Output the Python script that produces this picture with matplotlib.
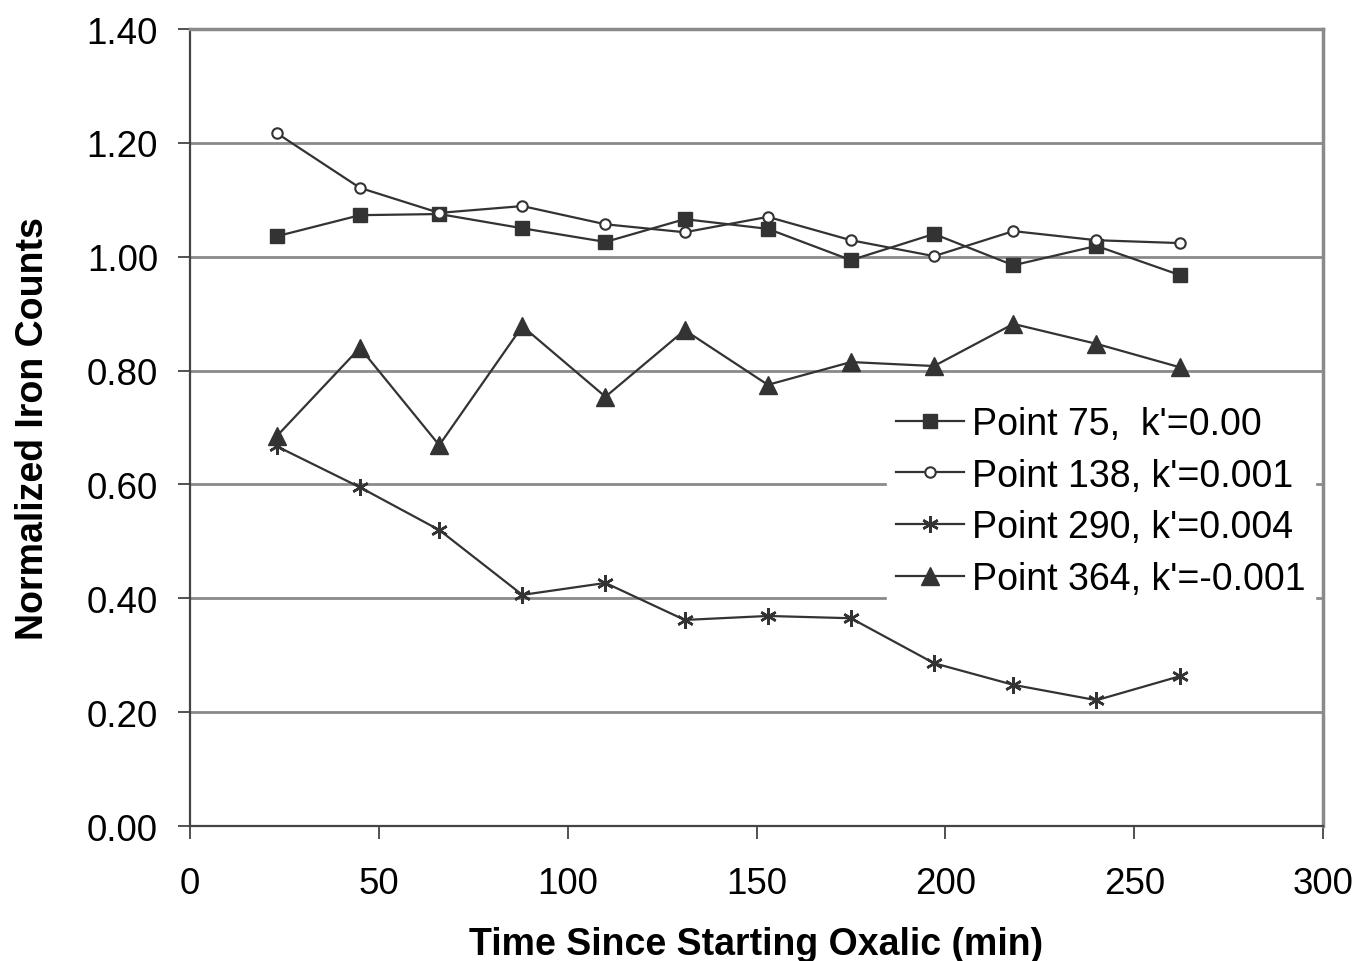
import numpy as np
from matplotlib import pyplot as plt

# data
time_min = [23, 45, 66, 88, 110, 131, 153, 175, 197, 218, 240, 262]
point_75 = [1.036, 1.073, 1.075, 1.050, 1.026, 1.066, 1.049, 0.994, 1.040, 0.985, 1.019, 0.968]
point_138 = [1.217, 1.121, 1.077, 1.089, 1.057, 1.043, 1.070, 1.029, 1.001, 1.045, 1.029, 1.024]
point_290 = [0.667, 0.595, 0.520, 0.406, 0.427, 0.362, 0.369, 0.365, 0.286, 0.248, 0.221, 0.263]
point_364 = [0.685, 0.840, 0.669, 0.878, 0.754, 0.871, 0.775, 0.815, 0.808, 0.882, 0.847, 0.806]
series_labels = ["Point 75,  k'=0.00", "Point 138, k'=0.001",
                 "Point 290, k'=0.004", "Point 364, k'=-0.001"]
y_ticks = [0.0, 0.2, 0.4, 0.6, 0.8, 1.0, 1.2, 1.4]
x_ticks = [0, 50, 100, 150, 200, 250, 300]

plt.rcParams['font.family'] = ['Liberation Sans', 'DejaVu Sans']

line_col = "#333333"
grid_col = "#8a8a8a"

fig = plt.figure(figsize=(13.57, 9.62), dpi=100)
ax = fig.add_axes([0.140, 0.1403, 0.835, 0.8285])

ax.plot(time_min, point_75, color=line_col, lw=1.6, marker="s", ms=10,
        mfc=line_col, mec=line_col, label=series_labels[0], zorder=3)
ax.plot(time_min, point_138, color=line_col, lw=1.6, marker="o", ms=7.5,
        mfc="white", mec=line_col, mew=1.5, label=series_labels[1], zorder=3)
ax.plot(time_min, point_290, color=line_col, lw=1.6, marker=(6, 2, 0), ms=12,
        mec=line_col, mew=1.8, label=series_labels[2], zorder=3)
ax.plot(time_min, point_364, color=line_col, lw=1.6, marker="^", ms=13,
        mfc=line_col, mec=line_col, label=series_labels[3], zorder=3)

ax.set_xlim(0, 300)
ax.set_ylim(0, 1.4)
ax.set_xticks(x_ticks)
ax.set_yticks(y_ticks)
ax.set_yticklabels([f"{v:.2f}" for v in y_ticks])
ax.tick_params(axis="both", direction="out", length=9, width=1.2,
               colors=line_col, labelcolor="black", labelsize=26.5)
ax.tick_params(axis="y", pad=14)
ax.tick_params(axis="x", pad=20)
ax.yaxis.grid(True, color=grid_col, lw=2)
ax.set_axisbelow(True)

for side in ["left", "bottom"]:
    ax.spines[side].set_color("#444444")
    ax.spines[side].set_linewidth(1.6)
for side in ["top", "right"]:
    ax.spines[side].set_color(grid_col)
    ax.spines[side].set_linewidth(2.5)

ax.set_xlabel("Time Since Starting Oxalic (min)", fontsize=27, fontweight="bold", labelpad=18)
ax.set_ylabel("Normalized Iron Counts", fontsize=27, fontweight="bold", labelpad=26)

leg = ax.legend(loc="upper left", bbox_to_anchor=(0.615, 0.539), frameon=True,
                fontsize=27, handlelength=1.8, handletextpad=0.22,
                labelspacing=0.42, borderpad=0.25, borderaxespad=0)
leg.get_frame().set_edgecolor("white")
leg.get_frame().set_facecolor("white")
leg.get_frame().set_alpha(1.0)
leg.get_frame().set_boxstyle("square", pad=0)

fig.savefig("out.png", dpi=100)
